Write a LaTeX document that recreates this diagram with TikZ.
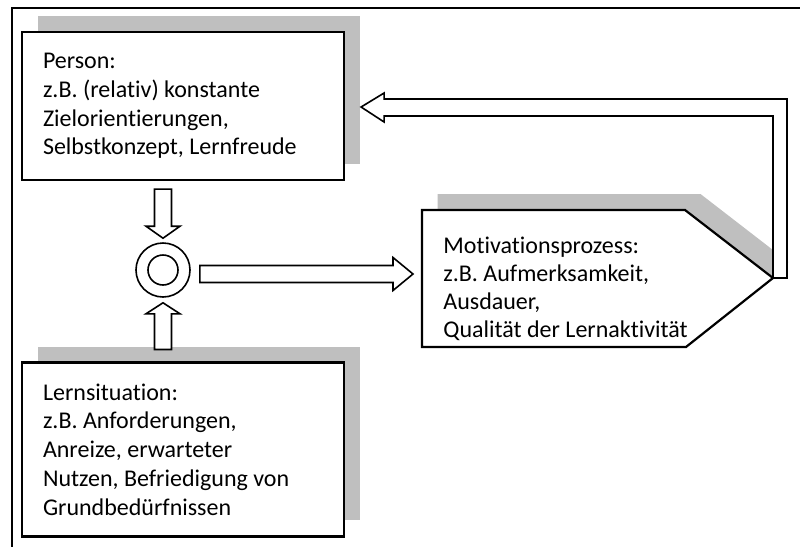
\documentclass[tikz,border=0pt]{standalone}
\usepackage{fontspec}
\setmainfont{Carlito}[Ligatures=CommonOff]
\usetikzlibrary{calc,shadows}

\tikzset{
  boxshadow/.style={drop shadow={shadow xshift=7.75pt, shadow yshift=8pt, fill=gray!50, opacity=1}},
  infobox/.style={draw, line width=1.1pt, fill=white, boxshadow, align=flush left,
    text width=140pt, inner sep=10.5pt, font=\fontsize{12pt}{14.4pt}\selectfont},
  blockarrow/.style={draw, fill=white, line width=0.8pt, line join=miter},
  frameline/.style={line width=1.3pt}
}

\begin{document}
\begin{tikzpicture}[x=0.5pt, y=-0.5pt]
\useasboundingbox (0,0) rectangle (800,547);
\draw[frameline] (12,547) |- (800,8);

% the two input boxes
\node[infobox, minimum height=74pt] (person) at (183,106)
  {Person:\\z.B. (relativ) konstante\\Zielorientierungen,\\Selbstkonzept, Lernfreude};
\node[infobox, minimum height=85.5pt] (lern) at (183,449.5)
  {Lernsituation:\\z.B. Anforderungen,\\Anreize, erwarteter\\Nutzen, Befriedigung von\\Grundbedürfnissen};

% interaction ring
\node[draw, circle, line width=0.8pt, minimum size=27pt] (ring) at (163,270) {};
\node[draw, circle, line width=0.8pt, minimum size=15pt] (ringin) at (ring.center) {};

% motivation process
\draw[line width=1.1pt, fill=white, boxshadow, line join=miter]
  (422,210) -- (685,210) -- (773,278) coordinate (mtip) -- (686,347) -- (422,347) -- cycle;
\coordinate (mwest) at (422,278);
\node[anchor=north west, inner sep=0pt, align=flush left, font=\fontsize{12pt}{13.9pt}\selectfont] (motiv) at (443,237)
  {Motivationsprozess:\\z.B. Aufmerksamkeit,\\Ausdauer,\\Qualität der Lernaktivität};

% person -> ring
\coordinate (dtip) at ($(ring.north)+(0,-4)$);
\draw[blockarrow] (dtip) -- ($(dtip)+(17,-12)$) -- ($(dtip)+(8.5,-12)$)
  -- ($(dtip |- person.south)+(8.5,8)$) -- ($(dtip |- person.south)+(-8.5,8)$)
  -- ($(dtip)+(-8.5,-12)$) -- ($(dtip)+(-17,-12)$) -- cycle;

% lernsituation -> ring
\coordinate (utip) at ($(ring.south)+(0,5)$);
\draw[blockarrow] (utip) -- ($(utip)+(17,11)$) -- ($(utip)+(8.5,11)$)
  -- ($(utip |- lern.north)+(8.5,-12)$) -- ($(utip |- lern.north)+(-8.5,-12)$)
  -- ($(utip)+(-8.5,11)$) -- ($(utip)+(-17,11)$) -- cycle;

% ring -> motivation
\coordinate (rstart) at ($(ring.east)+(9,4)$);
\coordinate (rtip) at ($(mwest |- rstart)+(-9,0)$);
\draw[blockarrow] ($(rstart)+(0,-8.5)$) -- ($(rtip)+(-20,-8.5)$) -- ($(rtip)+(-20,-16.5)$)
  -- (rtip) -- ($(rtip)+(-20,16.5)$) -- ($(rtip)+(-20,8.5)$) -- ($(rstart)+(0,8.5)$) -- cycle;

% feedback motivation -> person
\coordinate (fbtip) at ($(person.east)+(16,1)$);
\draw[blockarrow] (mtip) -- ($(mtip |- fbtip)+(0,9)$) -- ($(fbtip)+(23,9)$) -- ($(fbtip)+(23,15)$)
  -- (fbtip) -- ($(fbtip)+(23,-14)$) -- ($(fbtip)+(23,-8)$)
  -- ($(mtip |- fbtip)+(14,-8)$) -- ($(mtip)+(14,0)$) -- cycle;
\end{tikzpicture}
\end{document}
